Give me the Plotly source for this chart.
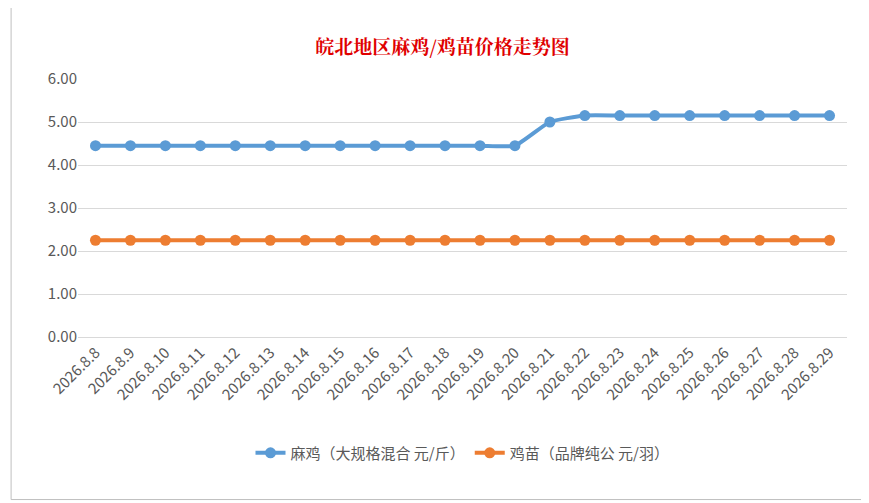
import plotly.graph_objects as go

dates = ["2026.8.%d" % d for d in range(8, 30)]
maji = [4.45] * 13 + [5.0] + [5.15] * 8
jimiao = [2.25] * 22
y_ticks = [0, 1, 2, 3, 4, 5, 6]

fig = go.Figure()
fig.add_trace(go.Scatter(x=dates, y=maji, mode="lines+markers", name="麻鸡（大规格混合 元/斤）",
                         line=dict(color="#5B9BD5", width=4, shape="spline", smoothing=0.5),
                         marker=dict(size=11, color="#5B9BD5")))
fig.add_trace(go.Scatter(x=dates, y=jimiao, mode="lines+markers", name="鸡苗（品牌纯公 元/羽）",
                         line=dict(color="#ED7D31", width=4),
                         marker=dict(size=11, color="#ED7D31")))

fig.update_layout(
    width=869, height=503,
    paper_bgcolor="white", plot_bgcolor="white",
    font=dict(family="Noto Sans CJK SC", size=15, color="#595959"),
    title=dict(text="<b>皖北地区麻鸡/鸡苗价格走势图</b>", x=0.5, y=0.935,
               font=dict(size=19, color="#E00000", family="Noto Serif CJK SC, Noto Sans CJK SC")),
    margin=dict(l=70, r=30, t=71, b=174),
    xaxis=dict(tickangle=-45, showgrid=False, showline=True, linecolor="#D9D9D9",
               tickfont=dict(size=15), range=[-0.5, 21.5]),
    yaxis=dict(range=[0, 6], tickvals=y_ticks, tickformat=".2f", gridcolor="#D9D9D9",
               zeroline=False, tickfont=dict(size=15)),
    legend=dict(orientation="h", x=0.5, xanchor="center", y=-0.45, yanchor="middle",
                font=dict(size=15)),
    shapes=[dict(type="rect", xref="paper", yref="paper", x0=-0.087, x1=1.035, y0=-0.63, y1=1.29,
                 line=dict(color="#BFBFBF", width=1))],
)
fig.write_html("out.html")
